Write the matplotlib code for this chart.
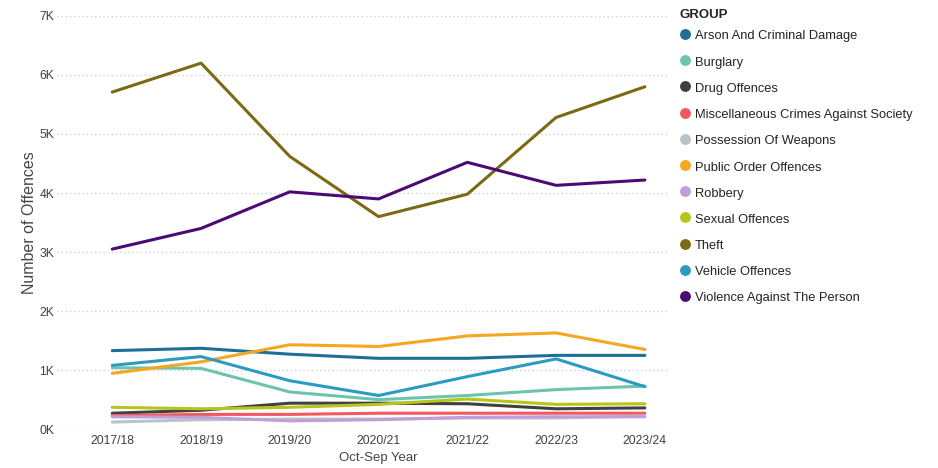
import matplotlib
matplotlib.use("Agg")
import matplotlib.pyplot as plt
from matplotlib.lines import Line2D
from matplotlib.ticker import FuncFormatter

plt.rcParams['font.family'] = ['Liberation Sans', 'DejaVu Sans']

# offences per Oct-Sep year, by group
years = ["2017/18", "2018/19", "2019/20", "2020/21", "2021/22", "2022/23", "2023/24"]
groups = ["Arson And Criminal Damage", "Burglary", "Drug Offences",
          "Miscellaneous Crimes Against Society", "Possession Of Weapons",
          "Public Order Offences", "Robbery", "Sexual Offences", "Theft",
          "Vehicle Offences", "Violence Against The Person"]

arson = [1330, 1370, 1270, 1200, 1200, 1250, 1250]
burglary = [1040, 1030, 630, 500, 570, 670, 730]
drugs = [270, 320, 440, 440, 430, 345, 360]
misc = [230, 250, 250, 270, 270, 270, 270]
weapons = [120, 160, 170, 170, 190, 190, 220]
public_order = [945, 1140, 1430, 1400, 1580, 1630, 1350]
robbery = [210, 200, 140, 160, 200, 210, 210]
sexual = [370, 345, 370, 420, 510, 420, 430]
theft = [5710, 6200, 4620, 3600, 3980, 5280, 5800]
vehicle = [1080, 1230, 820, 570, 890, 1190, 720]
violence = [3050, 3400, 4020, 3900, 4520, 4130, 4220]

series = [arson, burglary, drugs, misc, weapons, public_order,
          robbery, sexual, theft, vehicle, violence]
colors = ["#1E6F97", "#6CC4B0", "#404041", "#F05A5E", "#B8C4C7", "#F5A623",
          "#C39DD8", "#B5C51A", "#7B6A14", "#2C9BC1", "#4B0A74"]

fig = plt.figure(figsize=(9.38, 4.68), dpi=100)
ax = fig.add_axes([0.061, 0.083, 0.653, 0.883])

x = list(range(len(years)))
for vals, c in zip(series, colors):
    ax.plot(x, vals, color=c, lw=2.2, solid_capstyle='round', zorder=3)

ax.set_ylim(0, 7000)
ax.set_xlim(-0.62, 6.28)
ax.set_yticks(range(0, 7001, 1000))
ax.yaxis.set_major_formatter(FuncFormatter(lambda v, p: f"{int(v/1000)}K"))
ax.set_xticks(x)
ax.set_xticklabels(years)
ax.grid(axis='y', color='#D0D0D0', linestyle=(0, (1, 2)), lw=1)
ax.grid(axis='x', visible=False)
for s in ax.spines.values():
    s.set_visible(False)
ax.tick_params(length=0, labelsize=8.7, labelcolor='#404040', pad=4)
ax.tick_params(axis='y', pad=2)
ax.set_xlabel("Oct-Sep Year", fontsize=9.5, color='#454545', labelpad=1)
ax.xaxis.set_label_coords(0.524, -0.055)
ax.set_ylabel("Number of Offences", fontsize=11.5, color='#454545')
ax.yaxis.set_label_coords(-0.033, 0.5)

# legend on the right
fig.text(680 / 938, 1 - 14 / 468, "GROUP", fontsize=9.5, fontweight='bold',
         color='#252423', va='center_baseline', ha='left')
for i, (name, c) in enumerate(zip(groups, colors)):
    yp = 1 - (35 + i * 26.2) / 468
    fig.add_artist(Line2D([684.5 / 938], [yp + 1 / 468], marker='o',
                          markersize=6.8, color=c, transform=fig.transFigure))
    fig.text(695 / 938, yp, name, fontsize=9.3, color='#252423',
             va='center_baseline', ha='left')

fig.savefig("out.png", dpi=100)
